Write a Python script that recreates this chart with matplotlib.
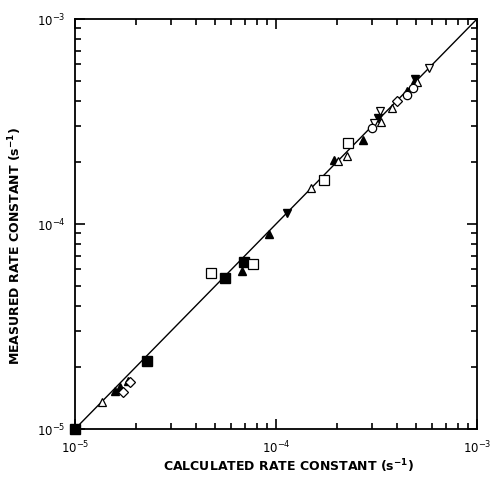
import numpy as np
import matplotlib
matplotlib.use('Agg')
import matplotlib.pyplot as plt
from matplotlib.ticker import LogLocator, NullFormatter

# ---- data (calculated, measured), s^-1 ----
filled_sq_x = [1.0e-5, 2.28e-5, 5.58e-5, 6.93e-5]
filled_sq_y = [1.0e-5, 2.15e-5, 5.45e-5, 6.53e-5]

open_sq_x = [4.75e-5, 7.69e-5, 1.73e-4, 2.28e-4]
open_sq_y = [5.77e-5, 6.38e-5, 1.64e-4, 2.48e-4]

filled_up_x = [1.58e-5, 1.67e-5, 1.83e-5, 6.78e-5, 9.23e-5, 1.94e-4, 2.71e-4, 4.49e-4, 4.92e-4]
filled_up_y = [1.53e-5, 1.60e-5, 1.71e-5, 5.90e-5, 8.94e-5, 2.05e-4, 2.57e-4, 4.45e-4, 5.04e-4]

filled_dn_x = [1.135e-4, 3.22e-4, 4.90e-4]
filled_dn_y = [1.13e-4, 3.29e-4, 5.10e-4]

open_up_x = [1.36e-5, 1.49e-4, 2.03e-4, 2.26e-4, 3.33e-4, 3.78e-4, 5.03e-4]
open_up_y = [1.35e-5, 1.50e-4, 2.03e-4, 2.15e-4, 3.15e-4, 3.68e-4, 4.93e-4]

open_dn_x = [3.29e-4, 5.77e-4, 3.07e-4]
open_dn_y = [3.56e-4, 5.77e-4, 3.11e-4]

open_ci_x = [3.00e-4, 4.49e-4, 4.80e-4]
open_ci_y = [2.94e-4, 4.26e-4, 4.60e-4]

open_di_x = [1.73e-5, 1.88e-5, 4.00e-4]
open_di_y = [1.51e-5, 1.70e-5, 3.98e-4]

lim = [1e-5, 1e-3]

plt.rcParams['font.family'] = ['DejaVu Sans']
plt.rcParams['mathtext.default'] = 'bf'

fig = plt.figure(figsize=(4.93, 4.81), dpi=100)
ax = fig.add_axes([75 / 493, 1 - 430 / 481, 402 / 493, 410 / 481])

# identity line
ax.plot(lim, lim, color='black', lw=1.0, zorder=2)

ms = 7
kw_open = dict(linestyle='none', markerfacecolor='white', markeredgecolor='black',
               markeredgewidth=0.9, zorder=3)
kw_fill = dict(linestyle='none', color='black', zorder=3)

ax.plot(filled_sq_x, filled_sq_y, 's', markersize=ms, clip_on=False, **kw_fill)
ax.plot(open_sq_x, open_sq_y, 's', markersize=ms, **kw_open)
ax.plot(filled_up_x, filled_up_y, '^', markersize=ms - 1, **kw_fill)
ax.plot(filled_dn_x, filled_dn_y, 'v', markersize=ms - 1, **kw_fill)
ax.plot(open_up_x, open_up_y, '^', markersize=ms - 1, **kw_open)
ax.plot(open_dn_x, open_dn_y, 'v', markersize=ms - 1, **kw_open)
ax.plot(open_ci_x, open_ci_y, 'o', markersize=ms - 1, **kw_open)
ax.plot(open_di_x, open_di_y, 'D', markersize=ms - 2, **kw_open)

ax.set_xscale('log')
ax.set_yscale('log')
ax.set_xlim(lim)
ax.set_ylim(lim)

for a in (ax.xaxis, ax.yaxis):
    a.set_major_locator(LogLocator(base=10, numticks=5))
    a.set_minor_locator(LogLocator(base=10, subs=np.arange(2, 10), numticks=10))
    a.set_minor_formatter(NullFormatter())

ax.tick_params(which='both', direction='in', top=True, right=True, width=1.2)
ax.tick_params(which='major', length=7, labelsize=8.5, pad=7)
ax.tick_params(which='minor', length=4)
for s in ax.spines.values():
    s.set_linewidth(1.3)

ax.set_xlabel('CALCULATED RATE CONSTANT (s$^{-1}$)', fontsize=9,
              fontweight='bold', va='center')
ax.set_ylabel('MEASURED RATE CONSTANT (s$^{-1}$)', fontsize=9,
              fontweight='bold', va='center')
ax.xaxis.set_label_coords(0.53, -0.088)
ax.yaxis.set_label_coords(-0.148, 0.45)

fig.savefig('out.png', dpi=100)
